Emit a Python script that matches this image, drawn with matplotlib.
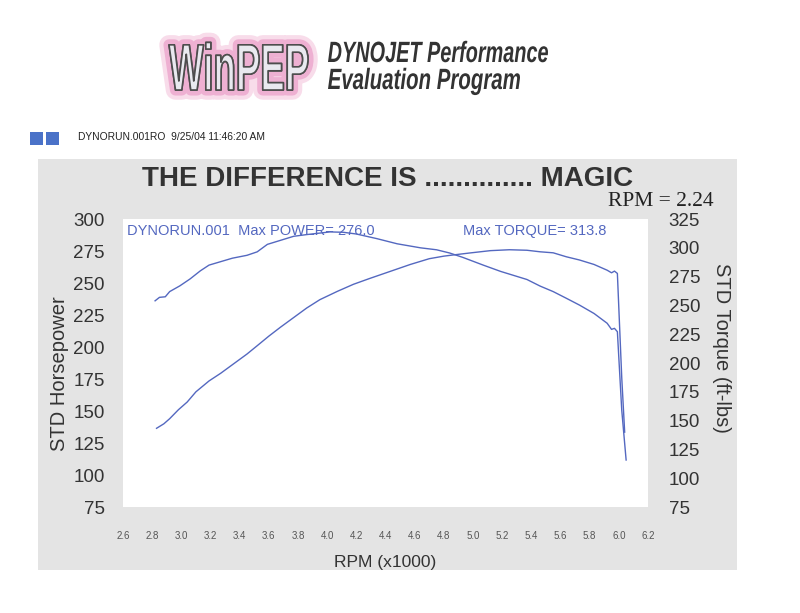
import matplotlib.pyplot as plt
import matplotlib.patheffects as pe
from matplotlib.patches import Rectangle, PathPatch
from matplotlib.textpath import TextPath
from matplotlib.font_manager import FontProperties
from matplotlib.transforms import Affine2D

rpm_pot = [2.83, 2.88, 2.92, 2.98, 3.04, 3.10, 3.19, 3.27, 3.36, 3.45, 3.52, 3.60,
           3.68, 3.77, 3.86, 3.95, 4.07, 4.18, 4.29, 4.43, 4.57, 4.70, 4.80, 4.87,
           4.98, 5.12, 5.25, 5.37, 5.46, 5.55, 5.64, 5.73, 5.83, 5.92, 5.95, 5.97,
           5.99, 6.02, 6.04]
potencia = [136.5, 140, 144, 151, 157, 165, 173.5, 179.5, 187, 194.5, 201, 208.5,
            215.5, 223, 230.5, 237, 243.5, 249, 253.5, 259, 264.5, 269, 271, 272,
            273.5, 275.3, 276.0, 275.6, 274.4, 273.6, 270.5, 268, 264.5, 260, 258, 259.3,
            257.5, 176, 133.5]

rpm_tq = [2.82, 2.85, 2.89, 2.92, 2.99, 3.06, 3.13, 3.19, 3.27, 3.35, 3.45, 3.52,
          3.59, 3.68, 3.77, 3.86, 3.95, 4.02, 4.11, 4.20, 4.34, 4.48, 4.64, 4.75,
          4.84, 4.93, 5.07, 5.19, 5.28, 5.37, 5.46, 5.55, 5.64, 5.73, 5.83, 5.92,
          5.95, 5.97, 5.99, 6.02, 6.05]
torque = [254, 257, 257.5, 262, 267, 273, 280, 285, 288, 291, 293.5, 296.5,
          303, 306.5, 310, 311.5, 312.8, 313.8, 313.5, 312, 308, 303.5, 300, 298.3,
          295.5, 291.7, 285, 279.5, 276, 272.5, 266.8, 262, 256.2, 250.3, 243, 234.5,
          229.2, 230.1, 227.2, 159, 115.8]

xticks = [2.6, 2.8, 3.0, 3.2, 3.4, 3.6, 3.8, 4.0, 4.2, 4.4, 4.6, 4.8, 5.0, 5.2,
          5.4, 5.6, 5.8, 6.0, 6.2]
hp_ticks = [75, 100, 125, 150, 175, 200, 225, 250, 275, 300]
tq_ticks = [75, 100, 125, 150, 175, 200, 225, 250, 275, 300, 325]

azul = "#5468c0"
texto = "#333333"
plt.rcParams['font.family'] = ['Liberation Sans', 'DejaVu Sans']

W, H = 800, 613
fig = plt.figure(figsize=(W / 100, H / 100), dpi=100)
fig.patch.set_facecolor("white")


def texto_estreito(s, x, base, cap, largura, prop, **kw):
    # texto condensado: altura das maiúsculas = cap px, largura total = largura px
    tp = TextPath((0, 0), s, size=100, prop=prop)
    ext = tp.get_extents()
    sy = cap / 71.6
    sx = largura / ext.width
    tr = Affine2D().translate(-ext.x0, 0).scale(sx, sy).translate(x, H - base)
    patch = PathPatch(tp, transform=tr, **kw)
    fig.patches.append(patch)
    return patch


# painel cinza atrás do gráfico
fig.patches.append(Rectangle((0.0475, 0.070), 0.874, 0.670, transform=fig.transFigure,
                             facecolor="#e4e4e4", edgecolor="none", zorder=-10))

# logo e cabeçalho
texto_estreito("WinPEP", 169, 90, 47, 139,
               FontProperties(family="Liberation Sans", weight="bold"),
               facecolor="#e9e9ef", edgecolor="#4d4d4d", linewidth=1.2,
               joinstyle="round",
               path_effects=[pe.withStroke(linewidth=14, foreground="#f8dcea",
                                           joinstyle="round"),
                             pe.withStroke(linewidth=8, foreground="#eeb0d2",
                                           joinstyle="round"),
                             pe.Normal()])
fonte_it = FontProperties(family="Liberation Sans", style="italic", weight="bold")
texto_estreito("DYNOJET Performance", 328, 62, 21, 220, fonte_it,
               facecolor="#333333", edgecolor="none")
texto_estreito("Evaluation Program", 328, 89, 21, 192, fonte_it,
               facecolor="#333333", edgecolor="none")

fig.patches.append(Rectangle((0.0375, 0.764), 0.0165, 0.020, transform=fig.transFigure,
                             facecolor="#4a72c8", edgecolor="none"))
fig.patches.append(Rectangle((0.0575, 0.764), 0.0165, 0.020, transform=fig.transFigure,
                             facecolor="#4a72c8", edgecolor="none"))
fig.text(0.0975, 0.776, "DYNORUN.001RO  9/25/04 11:46:20 AM", fontsize=7.4,
         color="#222222", ha="left", va="center")

fig.text(0.484, 0.708, "THE DIFFERENCE IS .............. MAGIC", fontsize=20,
         fontweight="bold", color=texto, ha="center", va="center")
fig.text(0.76, 0.672, "RPM = 2.24", fontsize=15.5, family="Liberation Serif",
         color="#222222", ha="left", va="center")

ax = fig.add_axes([0.15375, 0.1729, 0.65625, 0.4698])
ax.set_facecolor("white")
ax.plot(rpm_pot, potencia, color=azul, linewidth=1.0)
ax.set_xlim(2.6, 6.2)
ax.set_ylim(75, 300)
ax.set_xticks(xticks)
ax.set_xticklabels([f"{v:.1f}" for v in xticks], fontsize=7, color="#555555")
ax.set_yticks(hp_ticks)
ax.set_yticklabels([str(v) for v in hp_ticks], fontsize=13.5, color=texto)
ax.tick_params(axis="x", length=0, pad=17)
ax.tick_params(axis="y", length=0, pad=13)
ax.set_xlabel("RPM (x1000)", fontsize=12.5, color=texto, labelpad=10)
ax.set_ylabel("STD Horsepower", fontsize=14.5, color=texto, labelpad=3)
ax.yaxis.label.set_y(0.462)
for s in ax.spines.values():
    s.set_visible(False)

ax2 = ax.twinx()
ax2.plot(rpm_tq, torque, color=azul, linewidth=1.0)
ax2.set_ylim(75, 325)
ax2.set_yticks(tq_ticks)
ax2.set_yticklabels([str(v) for v in tq_ticks], fontsize=13.5, color=texto)
ax2.tick_params(axis="y", length=0, pad=15)
ax2.set_ylabel("STD Torque (ft-lbs)", fontsize=14.5, color=texto, rotation=-90,
               labelpad=22)
ax2.yaxis.label.set_y(0.552)
for s in ax2.spines.values():
    s.set_visible(False)

ax.text(0.008, 0.958, "DYNORUN.001  Max POWER= 276.0", transform=ax.transAxes,
        fontsize=10.5, color=azul, ha="left", va="center")
ax.text(0.648, 0.958, "Max TORQUE= 313.8", transform=ax.transAxes,
        fontsize=10.5, color=azul, ha="left", va="center")

plt.savefig("out.png", dpi=100)
